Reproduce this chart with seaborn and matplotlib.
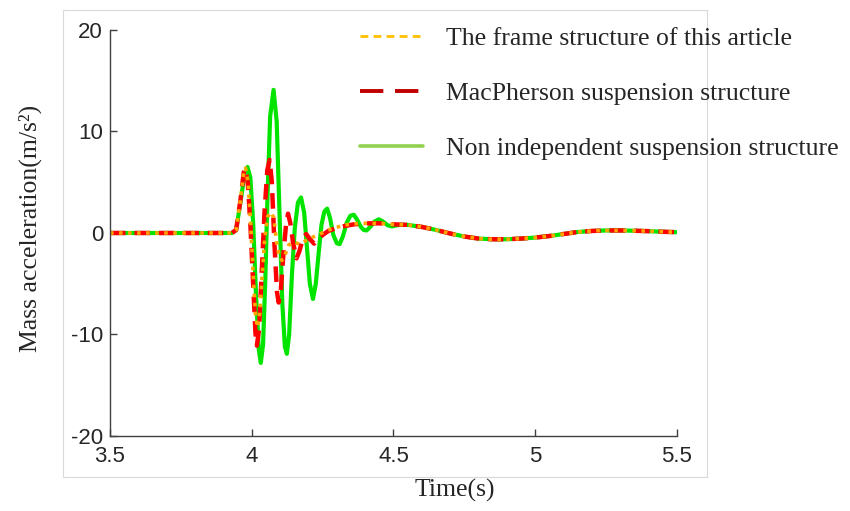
import pandas as pd
import matplotlib.pyplot as plt
import seaborn as sns
from matplotlib.lines import Line2D
from matplotlib.patches import Rectangle

# Values (time in s, acceleration in m/s^2)
green_t = [3.50, 3.93, 3.945, 3.96, 3.975, 3.985, 3.995, 4.005, 4.015, 4.025, 4.032, 4.040,
           4.048, 4.055, 4.065, 4.077, 4.088, 4.098, 4.108, 4.117, 4.124, 4.132, 4.142, 4.152,
           4.163, 4.174, 4.185, 4.195, 4.205, 4.216, 4.226, 4.236, 4.246, 4.256, 4.266, 4.276,
           4.288, 4.300, 4.310, 4.322, 4.335, 4.348, 4.360, 4.372, 4.385, 4.395, 4.405, 4.418,
           4.432, 4.448, 4.462, 4.480, 4.495, 4.510, 4.525]
green_a = [0.0, 0.0, 0.3, 3.0, 5.8, 6.5, 5.5, 1.0, -6.0, -11.5, -12.8, -11.0,
           -4.5, 3.0, 11.5, 14.1, 11.0, 2.0, -7.0, -11.2, -11.9, -10.0, -4.0, 0.5,
           3.0, 3.5, 2.0, -1.5, -5.0, -6.5, -5.0, -2.0, 0.8, 2.1, 2.4, 1.5,
           -0.2, -1.0, -1.1, -0.3, 1.0, 1.7, 1.8, 1.3, 0.6, 0.3, 0.25, 0.6,
           1.1, 1.35, 1.15, 0.75, 0.65, 0.75, 0.8]

red_t = [3.50, 3.93, 3.945, 3.96, 3.972, 3.977, 3.986, 3.995, 4.005, 4.013, 4.018, 4.026,
         4.035, 4.045, 4.055, 4.063, 4.071, 4.080, 4.089, 4.095, 4.103, 4.112, 4.121, 4.128,
         4.136, 4.146, 4.158, 4.168, 4.180, 4.192, 4.205, 4.220, 4.235, 4.250, 4.270, 4.300,
         4.330, 4.360, 4.400, 4.450, 4.500]
red_a = [0.0, 0.0, 0.3, 3.2, 6.0, 6.35, 5.0, 1.0, -5.0, -9.8, -11.1, -9.5,
         -4.0, 2.0, 6.2, 7.2, 5.0, -1.0, -5.8, -6.85, -5.5, -2.0, 0.8, 1.9,
         1.0, -1.0, -2.5, -1.8, -0.6, -0.1, -0.6, -1.05, -0.6, -0.2, 0.2, 0.5,
         0.7, 0.85, 0.95, 0.95, 0.85]

orange_t = [3.50, 3.93, 3.945, 3.96, 3.972, 3.978, 3.987, 3.996, 4.005, 4.013, 4.020, 4.028,
            4.036, 4.046, 4.056, 4.068, 4.078, 4.088, 4.098, 4.107, 4.117, 4.130, 4.145,
            4.170, 4.200, 4.240, 4.280, 4.330, 4.380, 4.450, 4.500]
orange_a = [0.0, 0.0, 0.3, 3.2, 6.0, 6.4, 5.0, 1.0, -4.0, -8.0, -9.3, -8.0,
            -4.5, -0.5, 1.6, 2.05, 1.5, -1.0, -2.4, -2.7, -2.2, -1.2, -0.9,
            -1.1, -0.6, -0.1, 0.4, 0.8, 0.95, 0.95, 0.85]

# slow tail shared by all three structures
tail_t = [4.55, 4.60, 4.65, 4.70, 4.75, 4.80, 4.85, 4.90, 4.95, 5.00, 5.05, 5.10,
          5.15, 5.20, 5.25, 5.30, 5.35, 5.40, 5.45, 5.50]
tail_a = [0.8, 0.6, 0.3, -0.05, -0.35, -0.55, -0.62, -0.62, -0.55, -0.45, -0.3, -0.1,
          0.1, 0.2, 0.25, 0.25, 0.22, 0.18, 0.12, 0.08]

labels = ["The frame structure of this article",
          "MacPherson suspension structure",
          "Non independent suspension structure"]

x_ticks = [3.5, 4, 4.5, 5, 5.5]
y_ticks = [-20, -10, 0, 10, 20]

df_green = pd.DataFrame({"t": green_t + tail_t, "a": green_a + tail_a})
df_red = pd.DataFrame({"t": red_t + tail_t, "a": red_a + tail_a})
df_orange = pd.DataFrame({"t": orange_t + tail_t, "a": orange_a + tail_a})

sns.set_style("ticks")
plt.rcParams["font.family"] = ["Liberation Sans", "DejaVu Sans"]
serif = ["Liberation Serif", "DejaVu Serif"]

fig = plt.figure(figsize=(8.5, 5.11), dpi=100)
ax = fig.add_axes([0.1294, 0.1468, 0.667, 0.7945])

# light grey outer box
fig.patches.append(Rectangle((0.0741, 0.0665), 0.7576, 0.9139, transform=fig.transFigure,
                             fill=False, edgecolor="#D9D9D9", linewidth=0.8))

sns.lineplot(data=df_green, x="t", y="a", ax=ax, color="#00E400", linewidth=3.0,
             sort=False, estimator=None, legend=False)
sns.lineplot(data=df_red, x="t", y="a", ax=ax, color="#FF0000", linewidth=3.2,
             linestyle=(0, (3.5, 2.0)), sort=False, estimator=None, legend=False)
sns.lineplot(data=df_orange, x="t", y="a", ax=ax, color="#FFA500", linewidth=2.6,
             linestyle=(0, (1.0, 1.5)), sort=False, estimator=None, legend=False)

ax.set_xlim(3.5, 5.5)
ax.set_ylim(-20, 20)
ax.set_xticks(x_ticks)
ax.set_xticklabels(["3.5", "4", "4.5", "5", "5.5"])
ax.set_yticks(y_ticks)
ax.set_yticklabels([str(v) for v in y_ticks])
sns.despine(ax=ax)
for s in ["left", "bottom"]:
    ax.spines[s].set_color("#404040")
    ax.spines[s].set_linewidth(1.0)
ax.tick_params(direction="in", length=5, width=1.0, color="#404040",
               labelsize=16, labelcolor="#262626")
ax.tick_params(axis="x", pad=7)
ax.tick_params(axis="y", pad=5)

ax.set_xlabel("Time(s)", fontsize=18.5, family=serif)
ax.set_ylabel("Mass acceleration(m/s²)", fontsize=18.5, family=serif)
ax.xaxis.set_label_coords(0.608, -0.105)
ax.yaxis.set_label_coords(-0.12, 0.51)

handles = [Line2D([], [], color="#FFC000", linewidth=2.0, linestyle=(0, (2.8, 1.9))),
           Line2D([], [], color="#C00000", linewidth=2.8, linestyle=(0, (6.0, 3.0))),
           Line2D([], [], color="#92D050", linewidth=2.6)]
fig.legend(handles=handles, labels=labels, loc="upper left", bbox_to_anchor=(0.4235, 0.947),
           frameon=False, prop={"family": "Liberation Serif", "size": 18.5},
           handlelength=2.45, handletextpad=0.9, labelspacing=1.25,
           borderpad=0, borderaxespad=0)

plt.savefig("out.png", dpi=100)
